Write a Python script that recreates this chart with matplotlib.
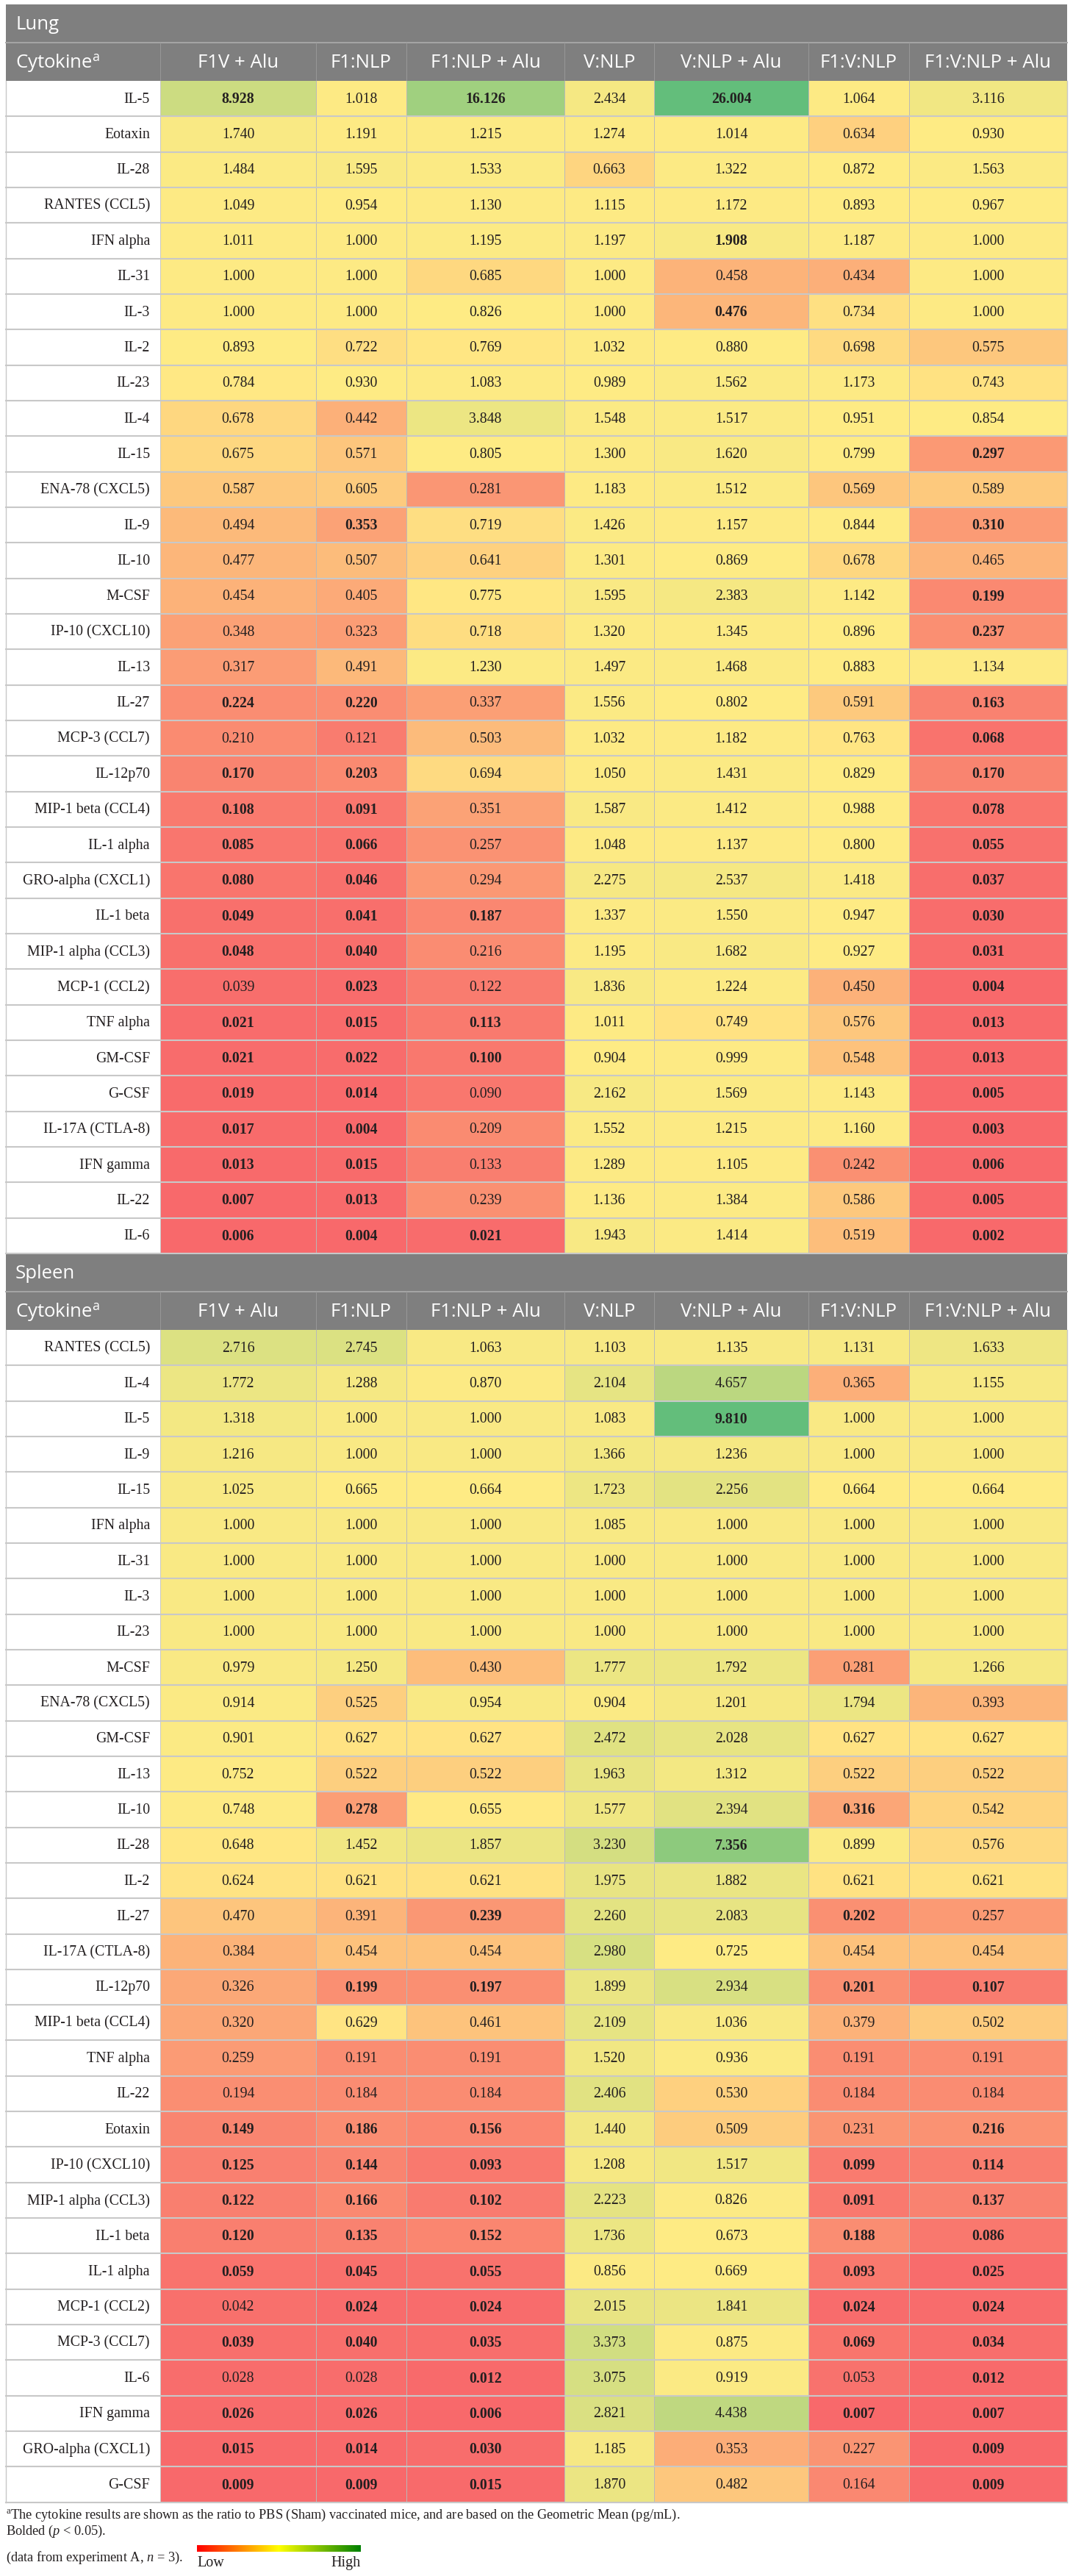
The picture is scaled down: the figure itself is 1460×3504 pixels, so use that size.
import numpy as np
import matplotlib
matplotlib.use('Agg')
import matplotlib.pyplot as plt
from matplotlib.colors import LinearSegmentedColormap, TwoSlopeNorm

plt.rcParams['mathtext.fontset'] = 'custom'
plt.rcParams['mathtext.rm'] = 'Liberation Serif'
plt.rcParams['mathtext.it'] = 'Liberation Serif:italic'

#### DATA ####
groups = ['F1V + Alu', 'F1:NLP', 'F1:NLP + Alu', 'V:NLP', 'V:NLP + Alu', 'F1:V:NLP', 'F1:V:NLP + Alu']

lung_rows = ['IL-5', 'Eotaxin', 'IL-28', 'RANTES (CCL5)', 'IFN alpha', 'IL-31', 'IL-3', 'IL-2', 'IL-23',
             'IL-4', 'IL-15', 'ENA-78 (CXCL5)', 'IL-9', 'IL-10', 'M-CSF', 'IP-10 (CXCL10)', 'IL-13', 'IL-27',
             'MCP-3 (CCL7)', 'IL-12p70', 'MIP-1 beta (CCL4)', 'IL-1 alpha', 'GRO-alpha (CXCL1)', 'IL-1 beta',
             'MIP-1 alpha (CCL3)', 'MCP-1 (CCL2)', 'TNF alpha', 'GM-CSF', 'G-CSF', 'IL-17A (CTLA-8)',
             'IFN gamma', 'IL-22', 'IL-6']
lung_vals = [
    [8.928, 1.018, 16.126, 2.434, 26.004, 1.064, 3.116],
    [1.740, 1.191, 1.215, 1.274, 1.014, 0.634, 0.930],
    [1.484, 1.595, 1.533, 0.663, 1.322, 0.872, 1.563],
    [1.049, 0.954, 1.130, 1.115, 1.172, 0.893, 0.967],
    [1.011, 1.000, 1.195, 1.197, 1.908, 1.187, 1.000],
    [1.000, 1.000, 0.685, 1.000, 0.458, 0.434, 1.000],
    [1.000, 1.000, 0.826, 1.000, 0.476, 0.734, 1.000],
    [0.893, 0.722, 0.769, 1.032, 0.880, 0.698, 0.575],
    [0.784, 0.930, 1.083, 0.989, 1.562, 1.173, 0.743],
    [0.678, 0.442, 3.848, 1.548, 1.517, 0.951, 0.854],
    [0.675, 0.571, 0.805, 1.300, 1.620, 0.799, 0.297],
    [0.587, 0.605, 0.281, 1.183, 1.512, 0.569, 0.589],
    [0.494, 0.353, 0.719, 1.426, 1.157, 0.844, 0.310],
    [0.477, 0.507, 0.641, 1.301, 0.869, 0.678, 0.465],
    [0.454, 0.405, 0.775, 1.595, 2.383, 1.142, 0.199],
    [0.348, 0.323, 0.718, 1.320, 1.345, 0.896, 0.237],
    [0.317, 0.491, 1.230, 1.497, 1.468, 0.883, 1.134],
    [0.224, 0.220, 0.337, 1.556, 0.802, 0.591, 0.163],
    [0.210, 0.121, 0.503, 1.032, 1.182, 0.763, 0.068],
    [0.170, 0.203, 0.694, 1.050, 1.431, 0.829, 0.170],
    [0.108, 0.091, 0.351, 1.587, 1.412, 0.988, 0.078],
    [0.085, 0.066, 0.257, 1.048, 1.137, 0.800, 0.055],
    [0.080, 0.046, 0.294, 2.275, 2.537, 1.418, 0.037],
    [0.049, 0.041, 0.187, 1.337, 1.550, 0.947, 0.030],
    [0.048, 0.040, 0.216, 1.195, 1.682, 0.927, 0.031],
    [0.039, 0.023, 0.122, 1.836, 1.224, 0.450, 0.004],
    [0.021, 0.015, 0.113, 1.011, 0.749, 0.576, 0.013],
    [0.021, 0.022, 0.100, 0.904, 0.999, 0.548, 0.013],
    [0.019, 0.014, 0.090, 2.162, 1.569, 1.143, 0.005],
    [0.017, 0.004, 0.209, 1.552, 1.215, 1.160, 0.003],
    [0.013, 0.015, 0.133, 1.289, 1.105, 0.242, 0.006],
    [0.007, 0.013, 0.239, 1.136, 1.384, 0.586, 0.005],
    [0.006, 0.004, 0.021, 1.943, 1.414, 0.519, 0.002],
]
# 1 = bolded (p < 0.05)
lung_bold = ['1010100', '0000000', '0000000', '0000000', '0000100', '0000000', '0000100', '0000000',
             '0000000', '0000000', '0000001', '0000000', '0100001', '0000000', '0000001', '0000001',
             '0000000', '1100001', '0000001', '1100001', '1100001', '1100001', '1100001', '1110001',
             '1100001', '0100001', '1110001', '1110001', '1100001', '1100001', '1100001', '1100001',
             '1110001']

spleen_rows = ['RANTES (CCL5)', 'IL-4', 'IL-5', 'IL-9', 'IL-15', 'IFN alpha', 'IL-31', 'IL-3', 'IL-23',
               'M-CSF', 'ENA-78 (CXCL5)', 'GM-CSF', 'IL-13', 'IL-10', 'IL-28', 'IL-2', 'IL-27',
               'IL-17A (CTLA-8)', 'IL-12p70', 'MIP-1 beta (CCL4)', 'TNF alpha', 'IL-22', 'Eotaxin',
               'IP-10 (CXCL10)', 'MIP-1 alpha (CCL3)', 'IL-1 beta', 'IL-1 alpha', 'MCP-1 (CCL2)',
               'MCP-3 (CCL7)', 'IL-6', 'IFN gamma', 'GRO-alpha (CXCL1)', 'G-CSF']
spleen_vals = [
    [2.716, 2.745, 1.063, 1.103, 1.135, 1.131, 1.633],
    [1.772, 1.288, 0.870, 2.104, 4.657, 0.365, 1.155],
    [1.318, 1.000, 1.000, 1.083, 9.810, 1.000, 1.000],
    [1.216, 1.000, 1.000, 1.366, 1.236, 1.000, 1.000],
    [1.025, 0.665, 0.664, 1.723, 2.256, 0.664, 0.664],
    [1.000, 1.000, 1.000, 1.085, 1.000, 1.000, 1.000],
    [1.000, 1.000, 1.000, 1.000, 1.000, 1.000, 1.000],
    [1.000, 1.000, 1.000, 1.000, 1.000, 1.000, 1.000],
    [1.000, 1.000, 1.000, 1.000, 1.000, 1.000, 1.000],
    [0.979, 1.250, 0.430, 1.777, 1.792, 0.281, 1.266],
    [0.914, 0.525, 0.954, 0.904, 1.201, 1.794, 0.393],
    [0.901, 0.627, 0.627, 2.472, 2.028, 0.627, 0.627],
    [0.752, 0.522, 0.522, 1.963, 1.312, 0.522, 0.522],
    [0.748, 0.278, 0.655, 1.577, 2.394, 0.316, 0.542],
    [0.648, 1.452, 1.857, 3.230, 7.356, 0.899, 0.576],
    [0.624, 0.621, 0.621, 1.975, 1.882, 0.621, 0.621],
    [0.470, 0.391, 0.239, 2.260, 2.083, 0.202, 0.257],
    [0.384, 0.454, 0.454, 2.980, 0.725, 0.454, 0.454],
    [0.326, 0.199, 0.197, 1.899, 2.934, 0.201, 0.107],
    [0.320, 0.629, 0.461, 2.109, 1.036, 0.379, 0.502],
    [0.259, 0.191, 0.191, 1.520, 0.936, 0.191, 0.191],
    [0.194, 0.184, 0.184, 2.406, 0.530, 0.184, 0.184],
    [0.149, 0.186, 0.156, 1.440, 0.509, 0.231, 0.216],
    [0.125, 0.144, 0.093, 1.208, 1.517, 0.099, 0.114],
    [0.122, 0.166, 0.102, 2.223, 0.826, 0.091, 0.137],
    [0.120, 0.135, 0.152, 1.736, 0.673, 0.188, 0.086],
    [0.059, 0.045, 0.055, 0.856, 0.669, 0.093, 0.025],
    [0.042, 0.024, 0.024, 2.015, 1.841, 0.024, 0.024],
    [0.039, 0.040, 0.035, 3.373, 0.875, 0.069, 0.034],
    [0.028, 0.028, 0.012, 3.075, 0.919, 0.053, 0.012],
    [0.026, 0.026, 0.006, 2.821, 4.438, 0.007, 0.007],
    [0.015, 0.014, 0.030, 1.185, 0.353, 0.227, 0.009],
    [0.009, 0.009, 0.015, 1.870, 0.482, 0.164, 0.009],
]
spleen_bold = ['0000000', '0000000', '0000100', '0000000', '0000000', '0000000', '0000000', '0000000',
               '0000000', '0000000', '0000000', '0000000', '0000000', '0100010', '0000100', '0000000',
               '0010010', '0000000', '0110011', '0000000', '0000000', '0000000', '1110001', '1110011',
               '1110011', '1110011', '1110011', '0110011', '1110011', '0010001', '1110011', '1110001',
               '1110001']

#### LAYOUT (pixels) ####
W, H = 1460, 3505
col_edges = [8, 218, 430, 553, 768, 890, 1100, 1237, 1452]
row_h = 48.33
serif = 'Liberation Serif'
sans = 'Open Sans'
head_gray = '#7f7f7f'
txt = '#231f20'

# Excel style 3-colour scale: min red, median yellow, max green
cmap = LinearSegmentedColormap.from_list('rdylgn_xl', ['#F8696B', '#FFEB84', '#63BE7B'])

fig = plt.figure(figsize=(W / 100, H / 100), dpi=100)
ax = fig.add_axes([0, 0, 1, 1])
ax.set_xlim(0, W)
ax.set_ylim(H, 0)
ax.axis('off')


def draw_table(top, title, rows, vals, bold):
    vals = np.array(vals)
    x0, x1 = col_edges[0], col_edges[-1]
    # title bar + column header
    ax.add_patch(plt.Rectangle((x0, top), x1 - x0, 104, color=head_gray, lw=0))
    ax.plot([x0, x1], [top + 52, top + 52], color='#a6a6a6', lw=1.4)
    for xe in col_edges[1:-1]:
        ax.plot([xe, xe], [top + 52, top + 104], color='#989898', lw=0.7)
    ax.text(x0 + 13, top + 27, title, family=sans, fontsize=18.5, color='white', va='center', ha='left')
    ax.text(x0 + 13, top + 79, r'Cytokine$^\mathregular{a}$', family=sans, fontsize=18.5, color='white',
            va='center', ha='left')
    for j, g in enumerate(groups):
        xc = (col_edges[j + 1] + col_edges[j + 2]) / 2
        ax.text(xc, top + 79, g, family=sans, fontsize=18.5, color='white', va='center', ha='center')

    # heatmap cells
    y0 = top + 104
    y_edges = y0 + row_h * np.arange(len(rows) + 1)
    norm = TwoSlopeNorm(vmin=vals.min(), vcenter=np.median(vals), vmax=vals.max())
    ax.pcolormesh(col_edges[1:], y_edges, vals, cmap=cmap, norm=norm, shading='flat')

    for xe in col_edges[2:-1]:
        ax.plot([xe, xe], [y0, y_edges[-1]], color='#b9b9b9', lw=0.7)
    for ye in y_edges[1:]:
        ax.plot([x0, x1], [ye, ye], color='#c8c8c8', lw=1.5)
    ax.plot([x0, x0], [y0, y_edges[-1]], color='#c8c8c8', lw=1.0)
    ax.plot([x1, x1], [y0, y_edges[-1]], color='#c8c8c8', lw=1.0)
    ax.plot([col_edges[1]] * 2, [y0, y_edges[-1]], color='#c8c8c8', lw=0.7)

    for i, name in enumerate(rows):
        yc = (y_edges[i] + y_edges[i + 1]) / 2
        ax.text(col_edges[1] - 14, yc, name, family=serif, fontsize=14.3, color=txt, ha='right', va='center')
        for j in range(len(groups)):
            xc = (col_edges[j + 1] + col_edges[j + 2]) / 2
            ax.text(xc, yc, f'{vals[i, j]:.3f}', family=serif, fontsize=14.3, color=txt,
                    ha='center', va='center', weight='bold' if bold[i][j] == '1' else 'normal')
    return y_edges[-1]


end_lung = draw_table(7, 'Lung', lung_rows, lung_vals, lung_bold)
end_spleen = draw_table(end_lung, 'Spleen', spleen_rows, spleen_vals, spleen_bold)

#### FOOTNOTES ####
ax.text(8, 3421, r'$^\mathregular{a}$The cytokine results are shown as the ratio to PBS (Sham) vaccinated mice, '
        'and are based on the Geometric Mean (pg/mL).', family=serif, fontsize=13.2, color=txt, va='center')
ax.text(8, 3443, r'Bolded ($p$ < 0.05).', family=serif, fontsize=13.2, color=txt, va='center')
ax.text(8, 3479, r'(data from experiment A, $n$ = 3).', family=serif, fontsize=13.2, color=txt, va='center')

legend_cmap = LinearSegmentedColormap.from_list('lowhigh', ['#ff0000', '#ffff00', '#008000'])
ax.imshow(np.linspace(0, 1, 256)[None, :], cmap=legend_cmap, extent=(268, 491, 3472, 3463), aspect='auto')
ax.text(268, 3487, 'Low', family=serif, fontsize=14.5, color=txt, va='center', ha='left')
ax.text(491, 3487, 'High', family=serif, fontsize=14.5, color=txt, va='center', ha='right')
ax.set_xlim(0, W)
ax.set_ylim(H, 0)

fig.savefig('out.png', dpi=100)
